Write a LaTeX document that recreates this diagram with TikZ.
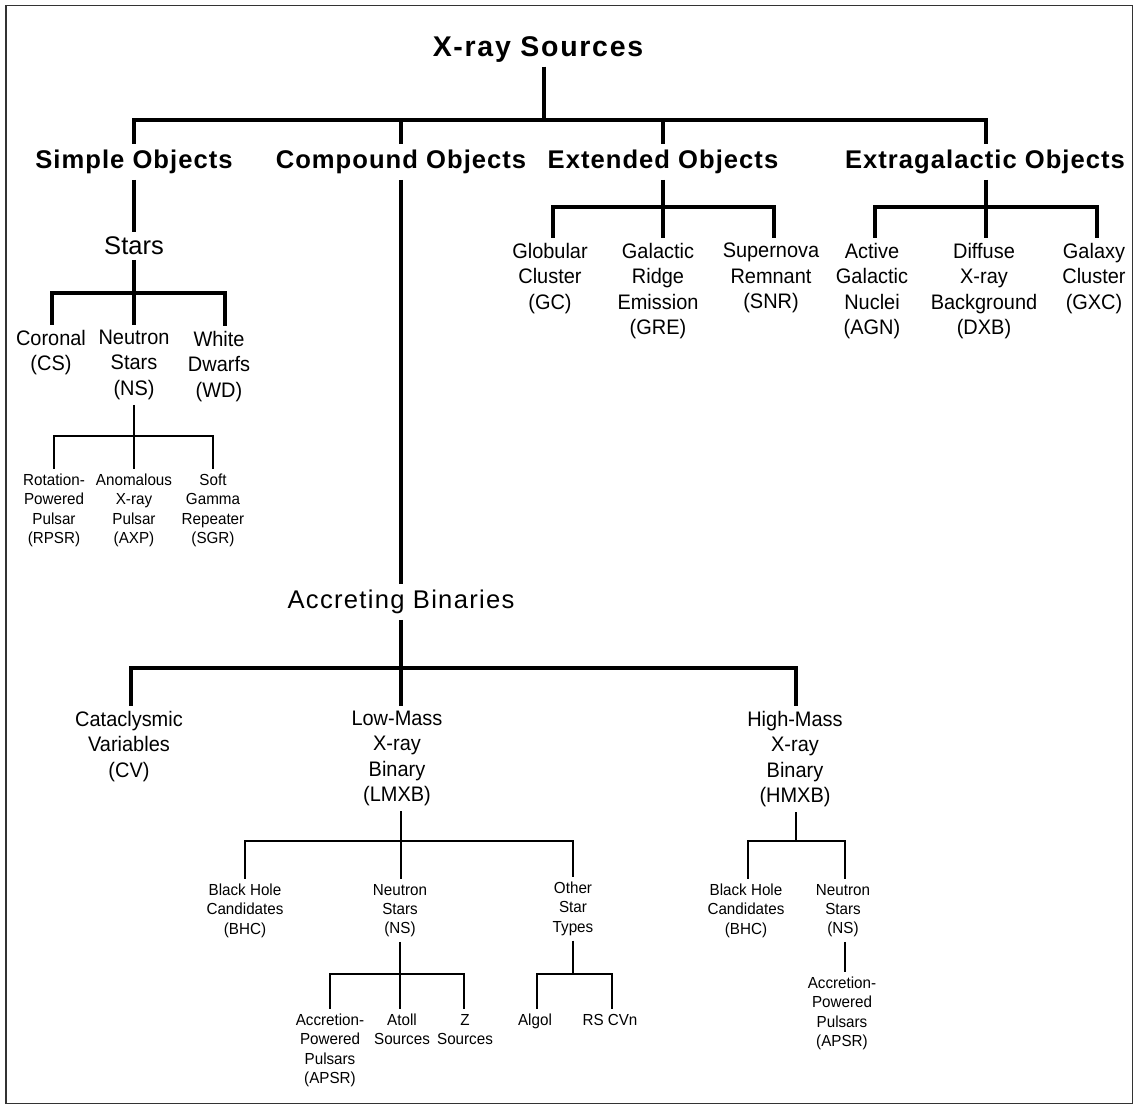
\documentclass[tikz,border=0pt]{standalone}
\usepackage{fontspec}
\setmainfont{Liberation Sans}
\newfontfamily\ttlfont[LetterSpace=6.0]{Liberation Sans}
\newfontfamily\hdfont[LetterSpace=4.0]{Liberation Sans}
\newfontfamily\accfont[LetterSpace=5.0]{Liberation Sans}
\newfontfamily\narfont[FakeStretch=0.95]{Liberation Sans}
\tikzset{
  basenode/.style={inner xsep=0pt, outer sep=0pt, align=center, anchor=north},
  ttl/.style={basenode, inner ysep=4pt, font=\ttlfont\bfseries\fontsize{28.5}{34}\selectfont},
  lvl/.style={basenode, inner ysep=6pt, font=\hdfont\bfseries\fontsize{25.6}{30}\selectfont},
  big/.style={basenode, inner ysep=5pt, font=\fontsize{25.5}{30}\selectfont},
  acc/.style={basenode, inner ysep=6pt, font=\accfont\fontsize{25.6}{30}\selectfont},
  med/.style={basenode, inner ysep=5pt, font=\narfont\fontsize{21}{25.5}\selectfont},
  sml/.style={basenode, inner ysep=5pt, font=\narfont\fontsize{16}{19.3}\selectfont},
  thk/.style={line width=3.6pt, line join=miter},
  thn/.style={line width=2pt, line join=miter},
}
\begin{document}
\begin{tikzpicture}[x=1pt,y=-1pt]
\useasboundingbox (0,0) rectangle (1136,1106);
\draw[line width=1.5pt, black!80] (6,5.5) rectangle (1132.5,1103.5);

% root
\node[ttl] (root) at (538,32.7) {X-ray Sources};
\coordinate (j0) at (544,120);
\node[lvl] (simple) at (134,144) {Simple Objects};
\node[lvl] (compound) at (401,144) {Compound Objects};
\node[lvl] (extended) at (663,144) {Extended Objects};
\node[lvl] (extragal) at (985,144) {Extragalactic Objects};
\draw[thk] (j0 |- root.south) -- (j0);
\draw[thk] (j0) -| (simple.north);
\draw[thk] (j0) -| ([xshift=1pt]extragal.north);
\draw[thk] (compound.north |- j0) -- (compound.north);
\draw[thk] (extended.north |- j0) -- (extended.north);

% simple objects
\node[big] (stars) at (134,231.7) {Stars};
\draw[thk] (simple.south) -- (stars.north);
\coordinate (jst) at (134,293);
\draw[thk] (stars.south) -- (jst);
\node[med] (cs) at (51,325) {Coronal\\(CS)};
\node[med] (ns1) at (134,325) {Neutron\\Stars\\(NS)};
\node[med] (wd) at (219,326) {White\\Dwarfs\\(WD)};
\draw[thk] (jst) -| ([xshift=1pt]cs.north);
\draw[thk] (jst) -- (ns1.north);
\draw[thk] (jst) -| ([xshift=6pt]wd.north);
\coordinate (jns1) at (134,436);
\draw[thn] (ns1.south) -- (jns1);
\node[sml] (rpsr) at (54,469) {Rotation-\\Powered\\Pulsar\\(RPSR)};
\node[sml] (axp) at (134,469) {Anomalous\\X-ray\\Pulsar\\(AXP)};
\node[sml] (sgr) at (213,469) {Soft\\Gamma\\Repeater\\(SGR)};
\draw[thn] (jns1) -| (rpsr.north);
\draw[thn] (jns1) -- (axp.north);
\draw[thn] (jns1) -| (sgr.north);

% compound objects
\node[acc] (accr) at (401,584) {Accreting Binaries};
\draw[thk] (compound.south) -- (accr.north);
\coordinate (jacc) at (401,668);
\draw[thk] (accr.south) -- (jacc);
\node[med] (cv) at (129,706) {Cataclysmic\\Variables\\(CV)};
\node[med] (lmxb) at (397,706) {Low-Mass\\X-ray\\Binary\\(LMXB)};
\node[med] (hmxb) at (795,706) {High-Mass\\X-ray\\Binary\\(HMXB)};
\draw[thk] (jacc) -| ([xshift=2pt]cv.north);
\draw[thk] (jacc) -| ([xshift=1pt]hmxb.north);
\draw[thk] (jacc) -- (jacc |- lmxb.north);

\coordinate (jlm) at (401,841);
\draw[thn] (jlm |- lmxb.south) -- (jlm);
\node[sml] (bhc1) at (245,879) {Black Hole\\Candidates\\(BHC)};
\node[sml] (ns2) at (400,879) {Neutron\\Stars\\(NS)};
\node[sml] (ost) at (573,877) {Other\\Star\\Types};
\draw[thn] (jlm) -| (bhc1.north);
\draw[thn] (jlm) -| (ost.north);
\draw[thn] (jlm) -- (jlm |- ns2.north);

\coordinate (jns2) at (400,974);
\draw[thn] (ns2.south) -- (jns2);
\node[sml] (apsr1) at (330,1009) {Accretion-\\Powered\\Pulsars\\(APSR)};
\node[sml] (atoll) at (402,1009) {Atoll\\Sources};
\node[sml] (zsrc) at (465,1009) {Z\\Sources};
\draw[thn] (jns2) -| (apsr1.north);
\draw[thn] (jns2) -| ([xshift=-1pt]zsrc.north);
\draw[thn] (jns2) -- (jns2 |- atoll.north);

\coordinate (jost) at (573,974);
\draw[thn] (ost.south) -- (jost);
\node[sml] (algol) at (535,1009) {Algol};
\node[sml] (rscvn) at (610,1009) {RS CVn};
\draw[thn] (jost) -| ([xshift=2pt]algol.north);
\draw[thn] (jost) -| ([xshift=2pt]rscvn.north);

\coordinate (jhm) at (796,841);
\draw[thn] (hmxb.south -| jhm) -- (jhm);
\node[sml] (bhc2) at (746,879) {Black Hole\\Candidates\\(BHC)};
\node[sml] (ns3) at (843,879) {Neutron\\Stars\\(NS)};
\draw[thn] (jhm) -| ([xshift=2pt]bhc2.north);
\draw[thn] (jhm) -| ([xshift=2pt]ns3.north);
\node[sml] (apsr2) at (842,972) {Accretion-\\Powered\\Pulsars\\(APSR)};
\draw[thn] ([xshift=2pt]ns3.south) -- ([xshift=3pt]apsr2.north);

% extended objects
\coordinate (jext) at (663,207);
\draw[thk] (extended.south) -- (jext);
\node[med] (gc) at (550,238) {Globular\\Cluster\\(GC)};
\node[med] (gre) at (658,238) {Galactic\\Ridge\\Emission\\(GRE)};
\node[med] (snr) at (771,238) {Supernova\\Remnant\\(SNR)};
\draw[thk] (jext) -| ([xshift=3pt]gc.north);
\draw[thk] (jext) -| ([xshift=3pt]snr.north);
\draw[thk] (jext) -- (jext |- gre.north);

% extragalactic objects
\coordinate (jeg) at (986,207);
\draw[thk] (extragal.south -| jeg) -- (jeg);
\node[med] (agn) at (872,238) {Active\\Galactic\\Nuclei\\(AGN)};
\node[med] (dxb) at (984,238) {Diffuse\\X-ray\\Background\\(DXB)};
\node[med] (gxc) at (1094,238) {Galaxy\\Cluster\\(GXC)};
\draw[thk] (jeg) -| ([xshift=3pt]agn.north);
\draw[thk] (jeg) -| ([xshift=3pt]gxc.north);
\draw[thk] (jeg) -- (jeg |- dxb.north);
\end{tikzpicture}
\end{document}
